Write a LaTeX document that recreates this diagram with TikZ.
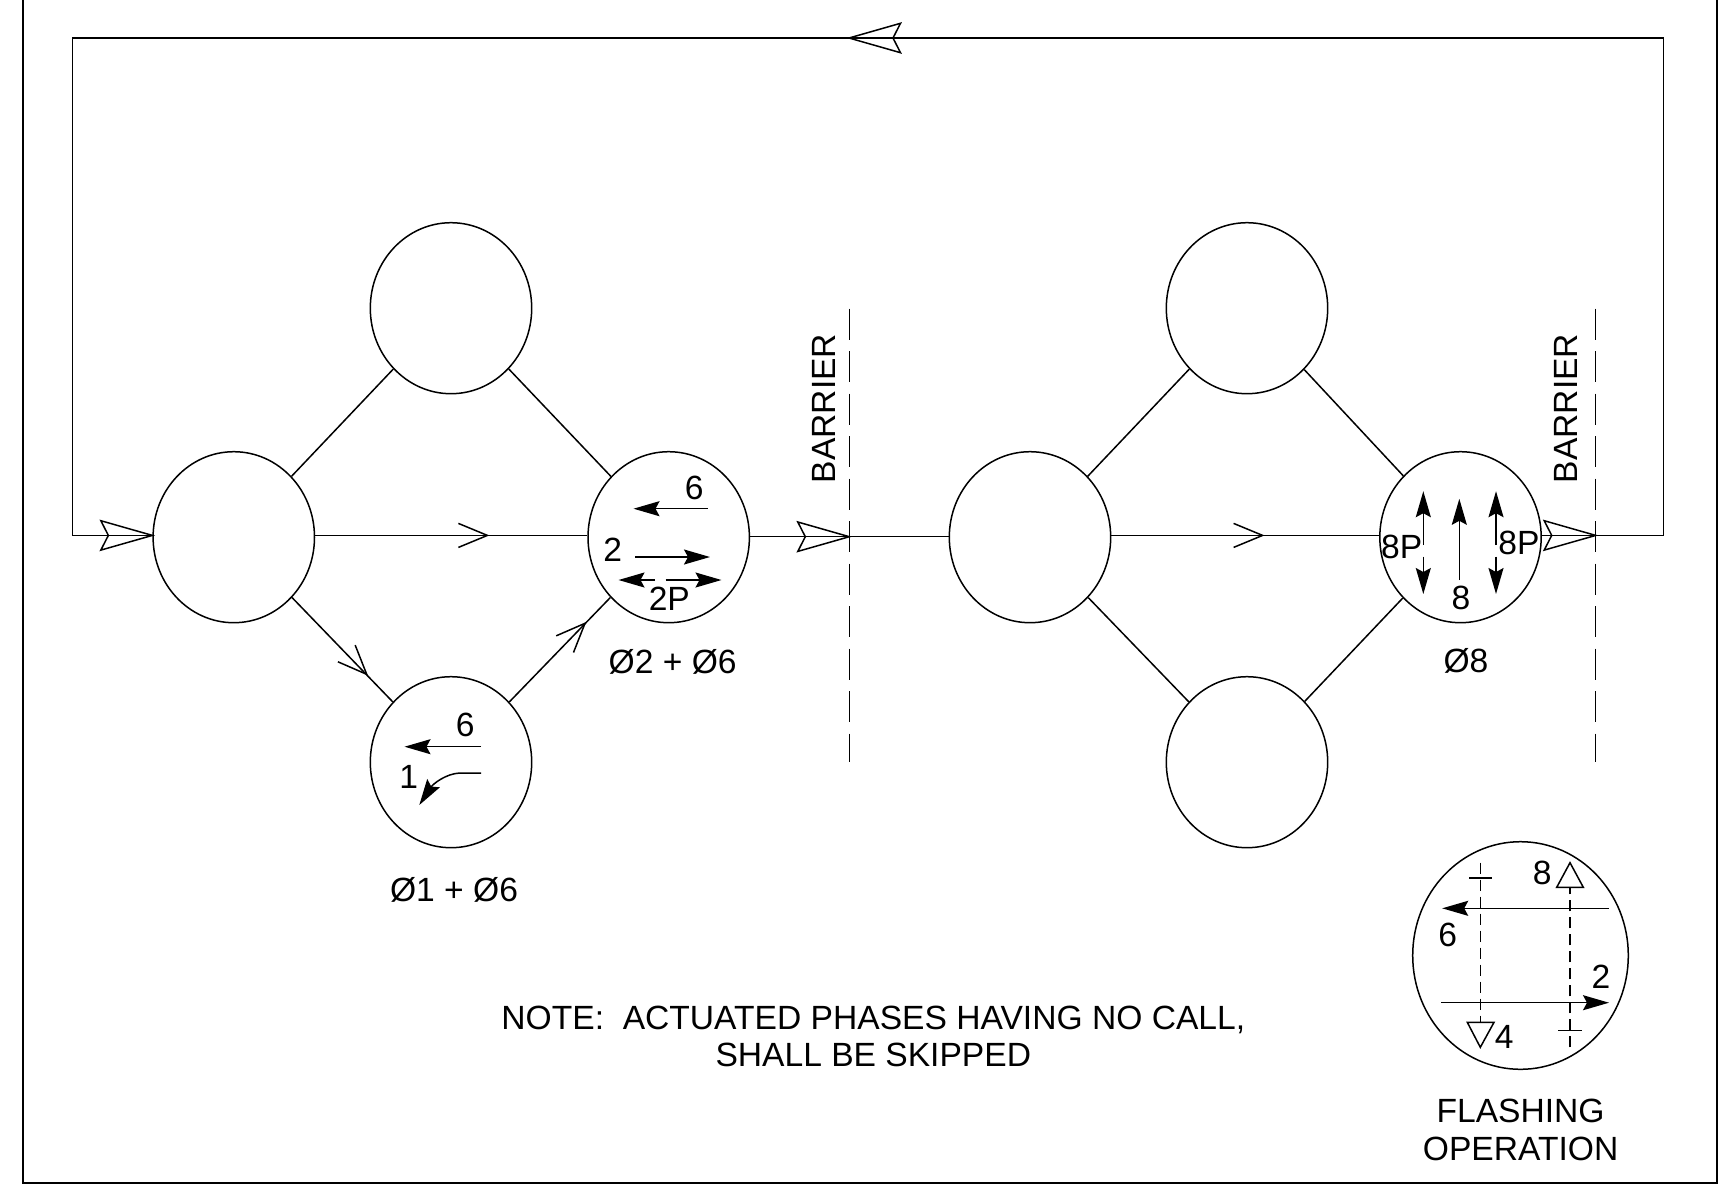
\documentclass[tikz,border=0pt]{standalone}
\usepackage{fontspec}
\setmainfont{Liberation Sans}
\usetikzlibrary{shapes.geometric,arrows.meta}
\tikzset{
  ln/.style={line width=0.75pt,line join=miter},
  phase/.style={ellipse,draw,line width=0.75pt,minimum width=80.7pt,minimum height=85.5pt,inner sep=0pt},
  lbl/.style={font=\fontsize{16.8}{18.6}\selectfont,inner sep=0pt,align=center,text=black},
  barrier/.style={ln,dash pattern=on 15.5pt off 5.75pt},
  fdash/.style={ln,dash pattern=on 5.5pt off 3pt},
  solidarrow/.style={ln,-{Stealth[length=13pt,width=7.5pt,inset=2pt]}},
  up/.style={yshift=0.9pt},
  pics/openhead/.style={code={\draw[ln] (0,0)--(-51.5,-14.7)--(-44,0)--(-51.5,14.7)--cycle;}},
  pics/vtip/.style={code={\draw[ln] (-29,-12)--(0,0)--(-29,12);}},
}
\begin{document}
\begin{tikzpicture}[x=0.5pt,y=-0.5pt]
\useasboundingbox (0,0) rectangle (1729,1184);
% frame
\draw[line width=1pt] (23,-2) -- (23,1183) -- (1716.7,1183) -- (1716.7,-2);
% phase circles
\node[phase] (L1) at (233.8,537.2) {};
\node[phase] (T1) at (451,308.2) {};
\node[phase] (B1) at (451,762.2) {};
\node[phase] (R1) at (668.7,537.2) {};
\node[phase] (L2) at (1030,537.2) {};
\node[phase] (T2) at (1247,308.2) {};
\node[phase] (B2) at (1247,762.2) {};
\node[phase] (R2) at (1460.5,537.2) {};
\node[phase,minimum width=107.8pt,minimum height=113.8pt] (F) at (1520.5,955.5) {};
% barrier and loop points
\coordinate (b1) at (849.3,536.7);
\coordinate (b2) at (1595.7,535.4);
\coordinate (c1) at (1663.3,535.4);
\coordinate (c2) at (1663.3,38);
\coordinate (c3) at (72.7,38);
\coordinate (c4) at (72.7,535.4);
\coordinate (h1) at (849,38);
\coordinate (b1t) at (849.3,308.7);
\coordinate (b1e) at (849.3,762);
\coordinate (b2t) at (1595.7,308.7);
\coordinate (b2e) at (1595.7,762);
% connectors
\draw[ln] (L1) -- (T1);
\draw[ln] (T1) -- (R1);
\draw[ln] (L1) -- (B1);
\draw[ln] (B1) -- (R1);
\draw[ln] ([up]L1.east) -- ([up]R1.west);
\draw[ln] ([yshift=0.25pt]R1.east) -- ([yshift=0.25pt]L2.west);
\draw[ln] (L2) -- (T2);
\draw[ln] (T2) -- (R2);
\draw[ln] (L2) -- (B2);
\draw[ln] (B2) -- (R2);
\draw[ln] ([up]L2.east) -- ([up]R2.west);
\draw[ln] ([up]R2.east) -- (c1) -- (c2) -- (c3) -- (c4) -- ([up]L1.west);
% direction marks
\pic at (487.4,535.4) {vtip};
\pic at (1262.6,535.4) {vtip};
\pic[rotate=-46] at (366.7,674.3) {vtip};
\pic[rotate=46] at (585,623.3) {vtip};
\pic at ([up]L1.west) {openhead};
\pic at (b1) {openhead};
\pic at (b2) {openhead};
\pic[rotate=180] at (h1) {openhead};
% barriers
\draw[barrier] (b1t) -- (b1e);
\draw[barrier] (b2t) -- (b2e);
\node[lbl,rotate=90] (tb1) at (824,408.5) {BARRIER};
\node[lbl,rotate=90] (tb2) at (1565.8,408.5) {BARRIER};
% phase 1+6
\draw[solidarrow] (481,746.7) -- (404.5,746.7);
\draw[solidarrow] (481,773) -- (460,773) .. controls (446,773.5) and (433,784) .. (419.3,805);
\node[lbl] (a6) at (465.3,725) {6};
\node[lbl] (a1) at (408.8,776.7) {1};
\node[lbl] (p16) at (454,890) {Ø1 + Ø6};
% phase 2+6
\draw[solidarrow] (707.7,508.7) -- (633.5,508.7);
\draw[solidarrow] (635.3,557) -- (710,557);
\draw[solidarrow] (655,580) -- (618.5,580);
\draw[solidarrow] (665.7,580) -- (721.5,580);
\node[lbl] (b6) at (694.3,487.7) {6};
\node[lbl] (b2t1) at (612.7,550) {2};
\node[lbl] (b2p) at (669.3,599) {2P};
\node[lbl] (p26) at (672.7,662.3) {Ø2 + Ø6};
% phase 8
\draw[solidarrow] (1423.3,545) -- (1423.3,491.2);
\draw[solidarrow] (1423.3,556.7) -- (1423.3,594);
\draw[solidarrow] (1459.3,580) -- (1459.3,498.8);
\draw[solidarrow] (1496,545) -- (1496,491.2);
\draw[solidarrow] (1496,556.7) -- (1496,594);
\node[lbl] (c8pl) at (1401.7,546.7) {8P};
\node[lbl] (c8pr) at (1519,543.3) {8P};
\node[lbl] (c8) at (1461,597.7) {8};
\node[lbl] (p8) at (1466,660.7) {Ø8};
% flashing
\draw[fdash] (1480.3,862.7) -- (1480.3,1022.3);
\draw[ln] (1469,878) -- (1492.3,878);
\draw[ln] (1467.3,1022.3) -- (1494,1022.3) -- (1480.3,1047.3) -- cycle;
\draw[fdash] (1570,1047.3) -- (1570,887.3);
\draw[ln] (1558,1030.7) -- (1582,1030.7);
\draw[ln] (1556.7,887.3) -- (1583.3,887.3) -- (1570,862.7) -- cycle;
\draw[solidarrow] (1609,908.3) -- (1442.2,908.3);
\draw[solidarrow] (1441.3,1002.7) -- (1609,1002.7);
\node[lbl] (f8) at (1542.3,873.3) {8};
\node[lbl] (f6) at (1447.7,935) {6};
\node[lbl] (f2) at (1601,976.7) {2};
\node[lbl] (f4) at (1504.3,1037.3) {4};
\node[lbl] (ft) at (1520.6,1130) {FLASHING\\OPERATION};
% note
\node[lbl] (note) at (873.3,1036.5) {NOTE:\ \ ACTUATED PHASES HAVING NO CALL,\\SHALL BE SKIPPED};
\end{tikzpicture}
\end{document}
